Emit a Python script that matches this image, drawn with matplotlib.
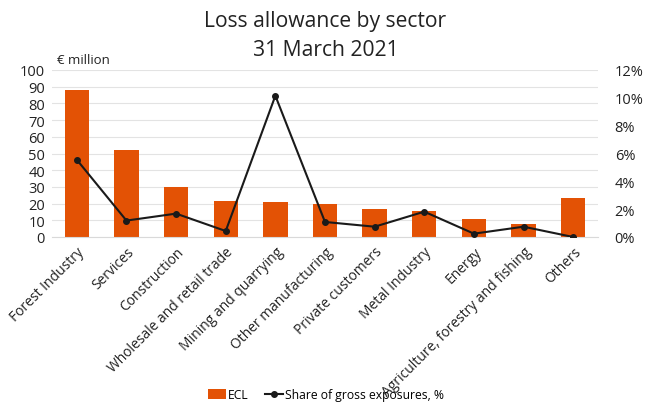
import numpy as np
import matplotlib.pyplot as plt
from matplotlib.ticker import FuncFormatter

plt.rcParams['font.family'] = ['Open Sans', 'DejaVu Sans']

sectors = ['Forest Industry', 'Services', 'Construction', 'Wholesale and retail trade',
           'Mining and quarrying', 'Other manufacturing', 'Private customers',
           'Metal Industry', 'Energy', 'Agriculture, forestry and fishing', 'Others']
ecl = [88, 52, 30, 21.5, 21, 19.5, 17, 15.5, 10.5, 7.5, 23.5]
share = [5.55, 1.18, 1.68, 0.43, 10.15, 1.08, 0.74, 1.82, 0.24, 0.74, 0.0]

orange = '#e35205'
x = np.arange(len(sectors))

fig = plt.figure(figsize=(6.51, 4.06), dpi=100)
ax = fig.add_axes([52/651, 1 - 238/406, 546/651, 167/406])
ax2 = ax.twinx()

bars = ax.bar(x, ecl, width=0.49, color=orange, label='ECL', zorder=2)
line, = ax2.plot(x, share, color='#1a1a1a', lw=1.5, marker='o', ms=4,
                 label='Share of gross exposures, %', zorder=3)

ax.set_xlim(-0.5, len(sectors) - 0.5)
ax.set_ylim(0, 100)
ax.set_yticks(range(0, 101, 10))
ax2.set_ylim(0, 12)
ax2.set_yticks(range(0, 13, 2))
ax2.yaxis.set_major_formatter(FuncFormatter(lambda v, p: f'{v:.0f}%'))

ax.yaxis.grid(True, color='#e3e3e3', lw=0.8, zorder=0)
ax.set_axisbelow(True)
for a in (ax, ax2):
    for s in a.spines.values():
        s.set_visible(False)
    a.tick_params(length=0, labelsize=10.5, colors='#222222')
ax.spines['bottom'].set_visible(True)
ax.spines['bottom'].set_color('#d9d9d9')
ax.tick_params(axis='y', pad=5)
ax2.tick_params(axis='y', pad=12)

ax.set_xticks(x)
ax.set_xticklabels(sectors, rotation=45, ha='right', rotation_mode='anchor', fontsize=10)
ax.tick_params(axis='x', pad=5)

fig.text(57/651, 1 - 61/406, '€ million', fontsize=9.5, color='#222222', va='center')
fig.text(0.5, 1 - 36/406, 'Loss allowance by sector\n31 March 2021', fontsize=15.2,
         ha='center', va='center', color='#222222', linespacing=1.45)

fig.legend([bars, line], ['ECL', 'Share of gross exposures, %'], loc='center',
           bbox_to_anchor=(326/651, 1 - 396/406), ncol=2, frameon=False, fontsize=8.7,
           handlelength=1.5, handleheight=0.9, columnspacing=1.3, handletextpad=0.2)

fig.savefig('out.png', dpi=100)
